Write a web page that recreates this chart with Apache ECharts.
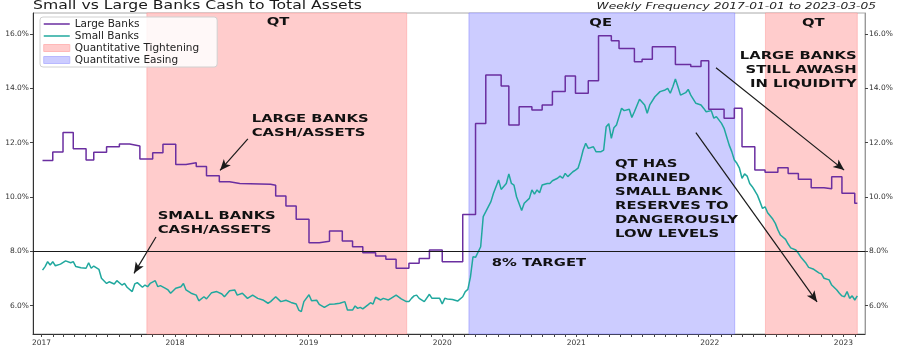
<!DOCTYPE html>
<html><head><meta charset="utf-8">
<script src="https://cdn.jsdelivr.net/npm/echarts@6/dist/echarts.min.js"></script>
<style>html,body{margin:0;padding:0;background:#fff}#c{width:900px;height:356px}</style>
</head><body><div id="c"></div>
<script>
// ---------------- data ----------------
const yearLabels = ['2017','2018','2019','2020','2021','2022','2023'];
const yTickValues = [6, 8, 10, 12, 14, 16];
const targetLevel = 8;
const firstObservation = '2017-01-04';   // weekly observations, week index 0
// Large banks cash/assets (%): week index where a new level starts, and that level
const largeWeeks = [0,4,8,12,17,20,25,30,34,38,43,47,52,56,60,64,69,73,77,89,91,95,99,104,108,112,117,121,125,130,134,138,143,147,151,156,164,169,173,179,182,186,191,195,199,204,208,213,217,222,225,231,234,238,247,253,257,260,266,270,273,278,282,287,291,295,300,305,308,312,317,318];
const largeValues = [11.34,11.66,12.37,11.78,11.36,11.65,11.85,11.95,11.88,11.40,11.63,11.94,11.20,11.26,11.12,10.78,10.56,10.50,10.47,10.43,10.04,9.67,9.18,8.32,8.37,8.75,8.38,8.17,7.95,7.83,7.71,7.38,7.56,7.74,8.05,7.62,9.36,12.71,14.49,14.09,12.65,13.32,13.20,13.39,13.88,14.45,13.82,14.28,15.94,15.75,15.47,14.98,15.07,15.53,14.88,14.80,15.02,13.23,12.90,13.27,11.85,10.99,10.91,11.08,10.87,10.65,10.34,10.30,10.75,10.14,9.77,9.77];
// Small banks cash/assets (%): week index and value
const smallWeeks = [0,1,2,3,4,5,7,9,11,12,13,15,17,18,19,20,22,23,25,26,28,29,31,32,33,35,36,37,39,40,41,42,44,45,46,48,49,50,52,54,55,56,58,60,61,63,64,66,68,70,71,73,75,76,78,80,82,84,86,88,89,91,93,95,97,99,100,101,102,104,105,107,108,110,112,114,116,118,119,121,122,123,124,125,127,128,129,130,132,133,135,136,138,140,142,143,144,145,146,147,149,151,152,154,155,156,157,158,160,162,164,165,166,167,168,169,171,172,173,175,176,178,179,181,182,183,184,185,187,188,190,191,192,193,194,195,197,198,199,201,202,203,204,205,207,208,209,210,211,212,213,215,216,218,219,220,221,222,223,224,225,226,227,229,230,231,233,235,236,237,239,241,243,244,245,246,247,248,249,251,252,253,255,257,258,259,261,262,263,265,266,267,268,269,270,271,272,273,274,275,276,277,278,279,280,281,282,283,285,286,287,288,290,291,292,294,295,296,298,299,301,303,304,305,307,308,310,311,312,313,314,315,316,317,318];
const smallValues = [7.31,7.44,7.62,7.50,7.62,7.47,7.53,7.65,7.58,7.62,7.44,7.40,7.38,7.58,7.38,7.46,7.34,7.01,6.82,6.88,6.80,6.92,6.76,6.82,6.68,6.52,6.80,6.85,6.68,6.76,6.70,6.82,6.92,6.70,6.74,6.64,6.58,6.46,6.64,6.70,6.82,6.58,6.46,6.39,6.18,6.33,6.25,6.48,6.52,6.43,6.33,6.55,6.58,6.39,6.46,6.27,6.39,6.27,6.21,6.09,6.15,6.33,6.15,6.20,6.12,6.06,5.84,5.78,6.15,6.40,6.18,6.20,6.05,5.94,6.05,6.06,6.09,6.15,5.84,5.84,5.99,5.90,5.94,5.88,6.03,6.11,6.06,6.31,6.21,6.27,6.21,6.27,6.39,6.25,6.15,6.15,6.27,6.36,6.39,6.27,6.15,6.42,6.27,6.27,6.27,6.06,6.27,6.25,6.23,6.17,6.33,6.52,6.60,7.05,7.80,7.78,8.17,9.28,9.46,9.83,10.14,10.63,10.28,10.50,10.85,10.50,10.44,10.01,9.50,9.77,9.95,10.26,10.11,10.26,10.16,10.44,10.50,10.50,10.60,10.69,10.77,10.69,10.87,10.75,10.93,10.99,11.06,11.36,11.73,11.98,11.79,11.85,11.67,11.67,11.73,12.59,12.70,12.16,12.55,12.65,12.96,13.27,13.18,13.23,12.93,13.14,13.60,13.39,13.08,13.39,13.69,13.88,13.94,14.00,13.82,14.06,14.34,14.06,13.75,13.84,13.96,13.75,13.45,13.39,13.27,13.14,13.18,12.90,12.96,12.71,12.53,12.22,11.91,11.67,11.36,11.24,11.06,10.69,10.85,10.77,10.50,10.38,10.23,10.07,9.83,9.58,9.64,9.42,9.19,9.03,8.79,8.60,8.44,8.27,8.13,8.05,7.93,7.78,7.56,7.41,7.34,7.21,7.17,7.01,6.95,6.76,6.58,6.46,6.36,6.33,6.52,6.27,6.36,6.21,6.36];
const qtPeriods = [['2017-10-16','2019-09-26'], ['2022-06-02','2023-02-08']];
const qePeriods = [['2020-03-14','2022-03-10']];
// annotation arrows: [from date, from value, to date, to value]
const arrows = [
  ['2018-07-19', 12.14, '2018-05-04', 10.98],
  ['2017-11-10', 8.53, '2017-09-11', 7.19],
  ['2022-01-18', 14.76, '2023-01-03', 10.99],
  ['2021-11-24', 12.37, '2022-10-21', 6.14]
];

// ---------------- helpers ----------------
const DAY = 86400000;
const t = s => Date.parse(s + 'T00:00:00Z');
const wk = w => t(firstObservation) + w * 7 * DAY;
const monthTicks = [];
for (let y = 2017; y <= 2023; y++) for (let m = 0; m < 12; m++) {
  const v = Date.UTC(y, m, 1);
  if (v <= Date.UTC(2023, 1, 1)) monthTicks.push(v);
}
const FONT = '"DejaVu Sans", sans-serif';
const LARGE = '#6a2ea0', SMALL = '#20a89e';
const QT = '#ffcccc', QE = '#ccccff';
const HIDDEN = {color: 'rgba(0,0,0,0)', borderColor: 'rgba(0,0,0,0)', borderWidth: 0};

const chart = echarts.init(document.getElementById('c'), null, {renderer: 'canvas'});

const yAxisBase = (pos, lineColor) => ({
  type: 'value', position: pos, min: 4.958, max: 16.773,
  axisLine: {show: true, lineStyle: {color: lineColor, width: 1}},
  axisTick: {show: true, customValues: yTickValues, length: 3, lineStyle: {color: '#444'}},
  axisLabel: {customValues: yTickValues, formatter: v => v.toFixed(1) + '%', fontSize: 7.5,
    fontFamily: FONT, color: '#333', margin: 4},
  splitLine: {show: false}
});

const annoText = (text, x, y, align, lh) => ({
  type: 'text', x: x, y: y, scaleX: 1.345, z: 100, silent: true,
  style: {text: text, fontFamily: FONT, fontSize: 11, fontWeight: 'bold', fill: '#111',
    align: align, verticalAlign: 'middle', lineHeight: lh || 14}
});

chart.setOption({
  animation: false,
  grid: {left: 33, right: 35, top: 13, bottom: 22, show: true, borderColor: '#aaa', borderWidth: 1},
  legend: {
    orient: 'vertical', left: 40, top: 17, padding: [1, 18, 1, 3], itemGap: 0,
    itemWidth: 26, itemHeight: 7, selectedMode: false,
    backgroundColor: 'rgba(255,255,255,0.85)', borderColor: '#d0d0d0', borderWidth: 1, borderRadius: 3,
    textStyle: {fontFamily: FONT, fontSize: 10.5, color: '#222', lineHeight: 12},
    data: [
      {name: 'Large Banks', itemStyle: HIDDEN, lineStyle: {color: LARGE, width: 1.5}},
      {name: 'Small Banks', itemStyle: HIDDEN, lineStyle: {color: SMALL, width: 1.5}},
      {name: 'Quantitative Tightening', icon: 'rect', itemStyle: {color: QT, borderColor: '#ffb8b8', borderWidth: 1}},
      {name: 'Quantitative Easing', icon: 'rect', itemStyle: {color: QE, borderColor: '#b8b8ff', borderWidth: 1}}
    ]
  },
  xAxis: {
    type: 'value', min: t('2016-12-09'), max: t('2023-03-01'),
    axisLine: {lineStyle: {color: '#333', width: 1}},
    axisTick: {show: true, customValues: monthTicks, length: 3, lineStyle: {color: '#444'}},
    axisLabel: {customValues: yearLabels.map(y => t(y + '-01-01')),
      formatter: v => String(new Date(v).getUTCFullYear()),
      fontSize: 7.5, fontFamily: FONT, color: '#333', margin: 5},
    splitLine: {show: false}
  },
  yAxis: [yAxisBase('left', '#333'), yAxisBase('right', '#999')],
  series: [
    {
      name: 'Quantitative Tightening', type: 'line', data: [], color: QT, z: 1,
      markArea: {silent: true, itemStyle: {color: QT, borderColor: 'rgba(255,120,120,0.35)', borderWidth: 1},
        data: qtPeriods.map(p => [{xAxis: t(p[0])}, {xAxis: t(p[1])}])}
    },
    {
      name: 'Quantitative Easing', type: 'line', data: [], color: QE, z: 1,
      markArea: {silent: true, itemStyle: {color: QE, borderColor: 'rgba(120,120,255,0.45)', borderWidth: 1},
        data: qePeriods.map(p => [{xAxis: t(p[0])}, {xAxis: t(p[1])}])}
    },
    {
      name: 'Large Banks', type: 'line', step: 'end', symbol: 'none', z: 3, color: LARGE,
      lineStyle: {color: LARGE, width: 1.5},
      data: largeWeeks.map((w, i) => [wk(w), largeValues[i]])
    },
    {
      name: 'Small Banks', type: 'line', symbol: 'none', z: 3, color: SMALL,
      lineStyle: {color: SMALL, width: 1.5},
      data: smallWeeks.map((w, i) => [wk(w), smallValues[i]])
    },
    {
      name: 'annotations', type: 'line', data: [], z: 4, silent: true,
      markLine: {
        silent: true, animation: false,
        label: {show: false},
        lineStyle: {color: '#1a1a1a', width: 1.2, type: 'solid'},
        symbol: ['none', 'none'],
        data: [{yAxis: targetLevel}].concat(arrows.map(a => [
          {coord: [t(a[0]), a[1]], symbol: 'none'},
          {coord: [t(a[2]), a[3]], symbol: 'arrow', symbolSize: [7, 11]}
        ]))
      }
    }
  ],
  graphic: [
    {type: 'text', x: 33, y: 6, scaleX: 1.35, z: 100, silent: true,
      style: {text: 'Small vs Large Banks Cash to Total Assets', fontFamily: FONT, fontSize: 11.6,
        fill: '#1a1a1a', align: 'left', verticalAlign: 'middle'}},
    {type: 'text', x: 876, y: 7, scaleX: 1.36, z: 100, silent: true,
      style: {text: 'Weekly Frequency 2017-01-01 to 2023-03-05', fontFamily: FONT, fontSize: 9,
        fontStyle: 'italic', fill: '#222', align: 'right', verticalAlign: 'middle'}},
    annoText('QT', 278, 22.5, 'center'),
    annoText('QE', 600.7, 22.8, 'center'),
    annoText('QT', 813.3, 22.8, 'center'),
    annoText('LARGE BANKS\nCASH/ASSETS', 251.7, 126, 'left', 13.4),
    annoText('SMALL BANKS\nCASH/ASSETS', 157.7, 223.3, 'left', 13.4),
    annoText('8% TARGET', 491.7, 263.3, 'left'),
    annoText('QT HAS\nDRAINED\nSMALL BANK\nRESERVES TO\nDANGEROUSLY\nLOW LEVELS', 615, 199, 'left', 13.9),
    annoText('LARGE BANKS\nSTILL AWASH\nIN LIQUIDITY', 856.7, 70.2, 'right', 14)
  ]
});
</script>
</body></html>
